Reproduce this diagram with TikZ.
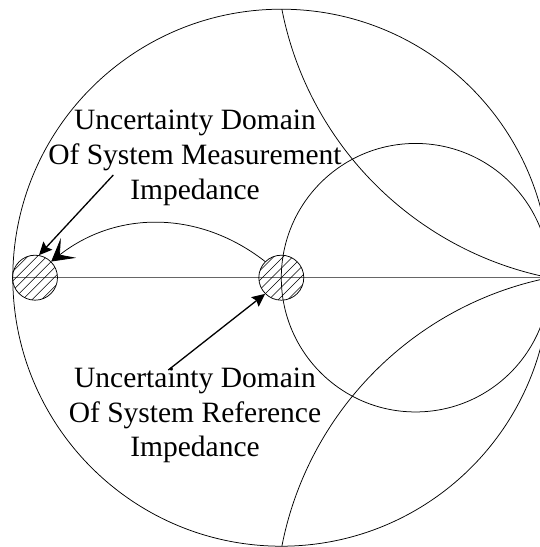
\documentclass[tikz,border=0pt]{standalone}
\usepackage{fontspec}
\setmainfont{Liberation Serif}
\usetikzlibrary{arrows.meta,calc}
\begin{document}
\begin{tikzpicture}[x=1pt,y=1pt,
  chartline/.style={line width=0.75pt},
  axisline/.style={line width=1pt, black!60},
  udomain/.style={circle, draw, line width=0.75pt, minimum size=45pt, inner sep=0pt,
    path picture={\foreach \k in {-6,...,6}{\draw[line width=0.6pt] ($(path picture bounding box.center)+(\k*9.5-40,-40)$) -- ++(80,80);}}},
  notetext/.style={align=center, font=\fontsize{29.5}{34.7}\selectfont, inner sep=0pt, anchor=base},
  ptrarrow/.style={line width=1.3pt, -{Stealth[length=13pt,width=12pt,inset=2pt]}},
  movearrow/.style={line width=0.75pt, -{Stealth[length=22pt,width=25pt,inset=11pt]}}
]
\useasboundingbox (0,0) rectangle (540,547);
\clip (0,0) rectangle (540,547);
\coordinate (O) at (281.3,269.3);
\draw[chartline] (O) circle (268.5);
\draw[chartline] (415.55,269.3) circle (134.25);
\begin{scope}
  \clip (O) circle (268.5);
  \draw[chartline] (616,603.2) circle (340.4);
  \draw[chartline] (616,-64.6) circle (340.4);
\end{scope}
\draw[axisline] (12.8,269.3) -- (549.8,269.3);
\node[udomain] (lc) at (35,269.3) {};
\node[udomain] (rc) at (O) {};
\node[notetext] (meas) at (195,347.8) {Uncertainty Domain\\Of System Measurement\\Impedance};
\node[notetext] (ref) at (195,90) {Uncertainty Domain\\Of System Reference\\Impedance};
\coordinate (m1) at (113.3,372);
\coordinate (r1) at (168.3,177);
\draw[ptrarrow] (m1) -- (lc.80);
\draw[ptrarrow] (r1) -- (rc.225);
\draw[movearrow] (rc.135) to[bend right=38] (lc.45);
\end{tikzpicture}
\end{document}
